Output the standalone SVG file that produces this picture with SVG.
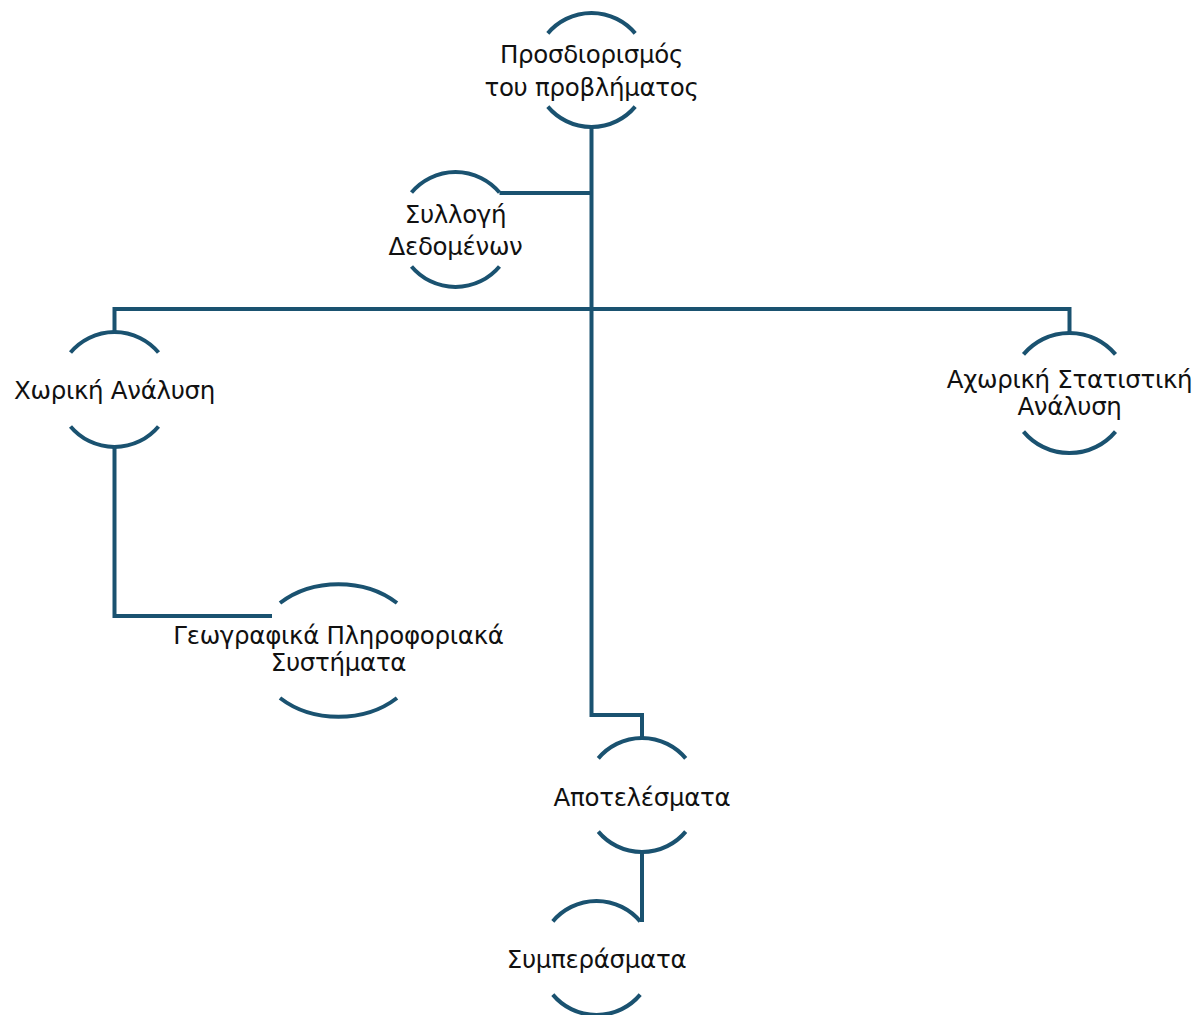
<svg xmlns="http://www.w3.org/2000/svg" width="1201" height="1015" viewBox="0 0 1201 1015">
<style>
.arc{fill:none;stroke:#1a5270;stroke-width:4}
.con{fill:none;stroke:#1a5270;stroke-width:4}
.t{font-family:"DejaVu Sans","Noto Sans",sans-serif;font-size:24.5px;letter-spacing:-0.3px;fill:#111;text-anchor:middle}
</style>
<rect width="1201" height="1015" fill="#fff"/>
<g id="connectors">
<path class="con" d="M591.5,127 V715 H642 V738"/>
<path class="con" d="M591.5,193 H499.5"/>
<path class="con" d="M114.5,332 V309 H1069.5 V333"/>
<path class="con" d="M114.5,447 V616 H272"/>
<path class="con" d="M642,852 V922"/>
</g>
<g id="n1">
<path class="arc" d="M547.8,33.4 A57,57 0 0 1 635.2,33.4"/>
<path class="arc" d="M547.8,106.6 A57,57 0 0 0 635.2,106.6"/>
<text class="t" x="591.5" y="63">Προσδιορισμός</text>
<text class="t" x="591.5" y="96">του προβλήματος</text>
</g>
<g id="n2">
<path class="arc" d="M411.5,192.5 A57.5,57.5 0 0 1 499.5,192.5"/>
<path class="arc" d="M411.5,266.5 A57.5,57.5 0 0 0 499.5,266.5"/>
<text class="t" x="455.5" y="223">Συλλογή</text>
<text class="t" x="455.5" y="255">Δεδομένων</text>
</g>
<g id="n3">
<path class="arc" d="M70.5,352.5 A57.5,57.5 0 0 1 158.5,352.5"/>
<path class="arc" d="M70.5,426.5 A57.5,57.5 0 0 0 158.5,426.5"/>
<text class="t" x="114.5" y="399">Χωρική Ανάλυση</text>
</g>
<g id="n4">
<path class="arc" d="M1023.5,354.4 A60,60 0 0 1 1115.5,354.4"/>
<path class="arc" d="M1023.5,431.6 A60,60 0 0 0 1115.5,431.6"/>
<text class="t" x="1069.5" y="388">Αχωρική Στατιστική</text>
<text class="t" x="1069.5" y="415">Ανάλυση</text>
</g>
<g id="n5">
<path class="arc" d="M280,603 A84,66.5 0 0 1 397,603"/>
<path class="arc" d="M280,698 A84,66.5 0 0 0 397,698"/>
<text class="t" x="338.5" y="643.5">Γεωγραφικά Πληροφοριακά</text>
<text class="t" x="338.5" y="670.5">Συστήματα</text>
</g>
<g id="n6">
<path class="arc" d="M598.3,758.4 A57,57 0 0 1 685.7,758.4"/>
<path class="arc" d="M598.3,831.6 A57,57 0 0 0 685.7,831.6"/>
<text class="t" x="642" y="806">Αποτελέσματα</text>
</g>
<g id="n7">
<path class="arc" d="M552.8,921.4 A57,57 0 0 1 640.2,921.4"/>
<path class="arc" d="M552.8,994.6 A57,57 0 0 0 640.2,994.6"/>
<text class="t" x="596.5" y="968">Συμπεράσματα</text>
</g>
</svg>
